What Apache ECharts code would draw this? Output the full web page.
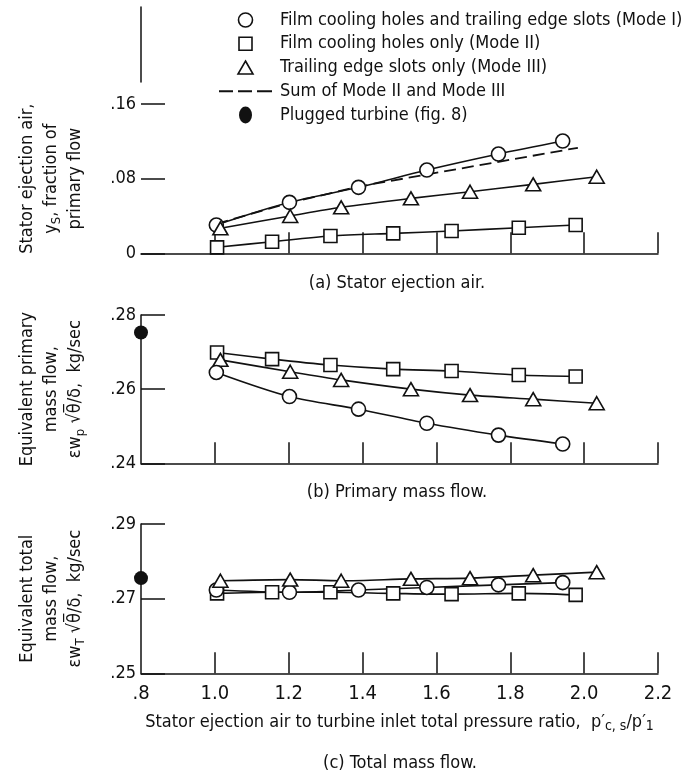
<!DOCTYPE html>
<html>
<head>
<meta charset="utf-8">
<script src="https://cdn.jsdelivr.net/npm/echarts@6/dist/echarts.min.js"></script>
<style>
  html, body { margin: 0; padding: 0; background: #fff; }
  #chart { width: 699px; height: 776px; }
</style>
</head>
<body>
<div id="chart"></div>
<script>
  // x positions of the data points, per cooling mode
  const xModeI = [1.004, 1.202, 1.389, 1.574, 1.768, 1.942];
  const xModeII = [1.006, 1.155, 1.313, 1.483, 1.641, 1.823, 1.977];
  const xModeIII = [1.015, 1.204, 1.342, 1.531, 1.691, 1.862, 2.034];

  // (a) stator ejection air, fraction of primary flow
  const ejectModeI = [0.0303, 0.0546, 0.0707, 0.0892, 0.1064, 0.1203];
  const ejectModeII = [0.0064, 0.0124, 0.0185, 0.0214, 0.0239, 0.0274, 0.0303];
  const ejectModeIII = [0.0268, 0.0400, 0.0493, 0.0589, 0.0660, 0.0739, 0.0820];
  const sumX = [1.004, 1.202, 1.389, 1.983];
  const sumY = [0.0315, 0.0540, 0.0715, 0.1131];

  // (b) equivalent primary mass flow, kg/sec
  const primModeI = [0.2645, 0.2580, 0.2546, 0.2508, 0.2476, 0.2452];
  const primModeII = [0.2699, 0.2681, 0.2665, 0.2654, 0.2649, 0.2638, 0.2634];
  const primModeIII = [0.2679, 0.2647, 0.2625, 0.2600, 0.2584, 0.2573, 0.2562];

  // (c) equivalent total mass flow, kg/sec
  const totModeI = [0.2723, 0.2717, 0.2723, 0.2730, 0.2737, 0.2743];
  const totModeII = [0.2714, 0.2717, 0.2717, 0.2714, 0.2712, 0.2714, 0.2710];
  const totModeIII = [0.2748, 0.2751, 0.2748, 0.2753, 0.2755, 0.2763, 0.2771];

  // plugged turbine (fig. 8)
  const pluggedX = 0.8;
  const pluggedPrimary = 0.2753;
  const pluggedTotal = 0.2755;

  const xLabelValues = [0.8, 1.0, 1.2, 1.4, 1.6, 1.8, 2.0, 2.2];
  const xTickValues = [1.0, 1.2, 1.4, 1.6, 1.8, 2.0, 2.2];

  const NAME_I = "Film cooling holes and trailing edge slots (Mode I)";
  const NAME_II = "Film cooling holes only (Mode II)";
  const NAME_III = "Trailing edge slots only (Mode III)";
  const NAME_SUM = "Sum of Mode II and Mode III";
  const NAME_PLUG = "Plugged turbine (fig. 8)";

  const INK = "#111";
  const FONT = "'Liberation Sans Narrow', 'DejaVu Sans Condensed', 'Arial Narrow', sans-serif";

  function pairs(xs, ys) {
    return xs.map((x, i) => [x, ys[i]]);
  }

  function decimal(v, digits) {
    if (v === 0) return "0";
    return v.toFixed(digits).replace(/^0/, "");
  }

  const openItem = { color: "#fff", borderColor: INK, borderWidth: 1.6, opacity: 1 };

  function modeSeries(name, symbol, size, xs, ys, idx) {
    return {
      name: name,
      type: "line",
      xAxisIndex: idx,
      yAxisIndex: idx,
      data: pairs(xs, ys),
      symbol: symbol,
      symbolSize: size,
      showAllSymbol: true,
      smooth: 0.3,
      clip: false,
      lineStyle: { color: INK, width: 1.6 },
      itemStyle: openItem,
      z: 3
    };
  }

  function pluggedSeries(y, idx) {
    return {
      name: NAME_PLUG,
      type: "scatter",
      xAxisIndex: idx,
      yAxisIndex: idx,
      data: [[pluggedX, y]],
      symbol: "circle",
      symbolSize: 14,
      clip: false,
      itemStyle: { color: INK, opacity: 1 },
      z: 4
    };
  }

  const grids = [
    { left: 141, width: 517, top: 104, height: 149.3 },
    { left: 141, width: 517, top: 315, height: 148.3 },
    { left: 141, width: 517, top: 524, height: 149.3 },
    { left: 141, width: 1, top: 7, height: 75 }
  ];

  function xAxisFor(idx, withLabels) {
    return {
      type: "value",
      gridIndex: idx,
      min: 0.8,
      max: 2.2,
      interval: 0.2,
      axisLine: { show: true, onZero: false, lineStyle: { color: INK, width: 1.5 } },
      axisTick: { show: true, inside: true, length: 21, customValues: xTickValues,
                  lineStyle: { color: INK, width: 1.5 } },
      axisLabel: {
        show: withLabels,
        customValues: xLabelValues,
        margin: 10,
        fontSize: 20,
        fontFamily: FONT,
        color: INK,
        formatter: v => decimal(v, 1)
      },
      splitLine: { show: false },
      name: withLabels ? "Stator ejection air to turbine inlet total pressure ratio,  p\u2032{sub|c, s}/p\u2032{sub|1}" : "",
      nameLocation: "middle",
      nameGap: 38,
      nameTextStyle: {
        fontSize: 18, fontFamily: FONT, color: INK, lineHeight: 22,
        rich: { sub: { fontSize: 14, fontFamily: FONT, color: INK, lineHeight: 22, verticalAlign: "bottom" } }
      }
    };
  }

  const nameStyle = {
    fontSize: 18, fontFamily: FONT, color: INK, lineHeight: 24,
    rich: { sub: { fontSize: 13, fontFamily: FONT, color: INK, lineHeight: 24, verticalAlign: "bottom" } }
  };

  function yAxisFor(idx, min, max, interval, name, showLine) {
    return {
      type: "value",
      gridIndex: idx,
      min: min,
      max: max,
      interval: interval,
      axisLine: { show: showLine, lineStyle: { color: INK, width: 1.5 } },
      axisTick: { show: true, inside: true, length: 24, lineStyle: { color: INK, width: 1.5 } },
      axisLabel: {
        margin: 5, fontSize: 18, fontFamily: FONT, color: INK,
        formatter: v => decimal(v, 2)
      },
      splitLine: { show: false },
      name: name,
      nameLocation: "middle",
      nameRotate: 90,
      nameGap: 54,
      nameTextStyle: nameStyle
    };
  }

  const titleStyle = { fontSize: 18, fontFamily: FONT, color: INK, fontWeight: "normal", lineHeight: 22 };

  // legend icons: lone move-to points pad every icon to the same 18px-high box,
  // so each keeps its own size inside the 59x18 legend slot
  const ICON_CIRCLE = "path://M7,-2 M0,7A7,7 0 1,0 14,7A7,7 0 1,0 0,7Z M7,16";
  const ICON_SQUARE = "path://M6.5,-2.5 M0,0h13v13h-13z M6.5,15.5";
  const ICON_TRIANGLE = "path://M7.5,-2.5 M7.5,0L15,13L0,13z M7.5,15.5";
  const ICON_DASH = "path://M-3,8 M26,0 M0,8h14v2h-14z M19,8h14v2h-14z M38,8h15v2h-15z M26,18 M56,8";
  const ICON_BLOB = "path://M6.5,-0.5 M6.5,0A6.5,8.5 0 1,1 6.5,17A6.5,8.5 0 1,1 6.5,0Z M6.5,17.5";

  const option = {
    animation: false,
    backgroundColor: "#fff",
    title: [
      { text: "(a) Stator ejection air.", left: 397, top: 272, textAlign: "center", padding: 0, textStyle: titleStyle },
      { text: "(b) Primary mass flow.", left: 397, top: 481, textAlign: "center", padding: 0, textStyle: titleStyle },
      { text: "(c) Total mass flow.", left: 400, top: 752, textAlign: "center", padding: 0, textStyle: titleStyle }
    ],
    legend: {
      orient: "vertical",
      left: 216,
      top: 10,
      padding: 0,
      itemGap: 3.75,
      itemWidth: 59,
      itemHeight: 18,
      selectedMode: false,
      textStyle: { fontSize: 18, fontFamily: FONT, color: INK, lineHeight: 20 },
      data: [
        { name: NAME_I, icon: ICON_CIRCLE, itemStyle: openItem },
        { name: NAME_II, icon: ICON_SQUARE, itemStyle: openItem },
        { name: NAME_III, icon: ICON_TRIANGLE, itemStyle: openItem },
        { name: NAME_SUM, icon: ICON_DASH, itemStyle: { color: INK, borderWidth: 0, opacity: 1 } },
        { name: NAME_PLUG, icon: ICON_BLOB, itemStyle: { color: INK, borderWidth: 0, opacity: 1 } }
      ]
    },
    grid: grids,
    xAxis: [
      xAxisFor(0, false),
      xAxisFor(1, false),
      xAxisFor(2, true),
      { type: "value", gridIndex: 3, show: false, min: 0, max: 1 }
    ],
    yAxis: [
      yAxisFor(0, 0, 0.16, 0.08, "Stator ejection air,\ny{sub|S}, fraction of\nprimary flow", false),
      yAxisFor(1, 0.24, 0.28, 0.02, "Equivalent primary\nmass flow,\n\u03b5w{sub|p} \u221a\u03b8\u0305/\u03b4,  kg/sec", true),
      yAxisFor(2, 0.25, 0.29, 0.02, "Equivalent total\nmass flow,\n\u03b5w{sub|T} \u221a\u03b8\u0305/\u03b4,  kg/sec", true),
      {
        type: "value", gridIndex: 3, min: 0, max: 1,
        axisLine: { show: true, lineStyle: { color: INK, width: 1.5 } },
        axisTick: { show: false }, axisLabel: { show: false }, splitLine: { show: false }
      }
    ],
    series: [
      modeSeries(NAME_I, "circle", 14, xModeI, ejectModeI, 0),
      modeSeries(NAME_III, "triangle", [15, 13], xModeIII, ejectModeIII, 0),
      modeSeries(NAME_II, "rect", 13, xModeII, ejectModeII, 0),
      {
        name: NAME_SUM,
        type: "line",
        xAxisIndex: 0,
        yAxisIndex: 0,
        data: pairs(sumX, sumY),
        symbol: "none",
        clip: false,
        lineStyle: { color: INK, width: 1.8, type: [12, 6] },
        z: 2
      },

      modeSeries(NAME_II, "rect", 13, xModeII, primModeII, 1),
      modeSeries(NAME_III, "triangle", [15, 13], xModeIII, primModeIII, 1),
      modeSeries(NAME_I, "circle", 14, xModeI, primModeI, 1),
      pluggedSeries(pluggedPrimary, 1),

      modeSeries(NAME_II, "rect", 13, xModeII, totModeII, 2),
      modeSeries(NAME_I, "circle", 14, xModeI, totModeI, 2),
      modeSeries(NAME_III, "triangle", [15, 13], xModeIII, totModeIII, 2),
      pluggedSeries(pluggedTotal, 2)
    ]
  };

  const chart = echarts.init(document.getElementById("chart"), null, { renderer: "canvas" });
  chart.setOption(option);
</script>
</body>
</html>
